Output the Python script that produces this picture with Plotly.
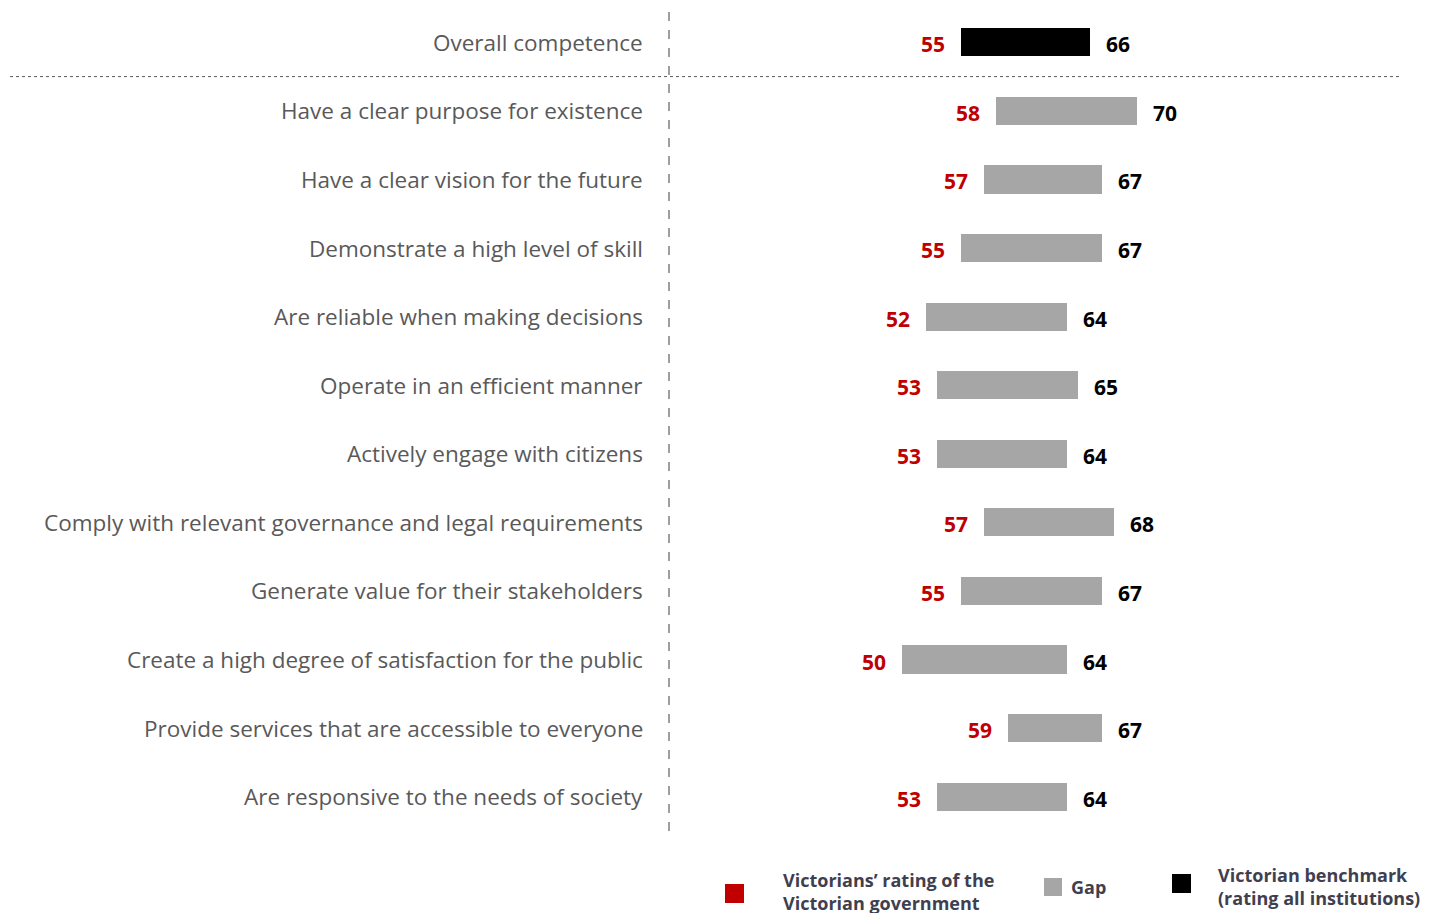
import plotly.graph_objects as go

categories = [
    "Overall competence",
    "Have a clear purpose for existence",
    "Have a clear vision for the future",
    "Demonstrate a high level of skill",
    "Are reliable when making decisions",
    "Operate in an efficient manner",
    "Actively engage with citizens",
    "Comply with relevant governance and legal requirements",
    "Generate value for their stakeholders",
    "Create a high degree of satisfaction for the public",
    "Provide services that are accessible to everyone",
    "Are responsive to the needs of society",
]
victorian_rating = [55, 58, 57, 55, 52, 53, 53, 57, 55, 50, 59, 53]
benchmark = [66, 70, 67, 67, 64, 65, 64, 68, 67, 64, 67, 64]
legend_labels = ["Victorians’ rating of the<br>Victorian government", "Gap",
                 "Victorian benchmark<br>(rating all institutions)"]

RED = "#C00000"
GRAY = "#A6A6A6"
BLACK = "#000000"
TXT = "#595959"

W, H = 1447, 913
ML, MR, MT, MB = 669, 47, 8, 82
PW, PH = W - ML - MR, H - MT - MB

def px2paper_x(px):
    return (px - ML) / PW

def px2paper_y(py):
    return (H - MB - py) / PH

colors = [BLACK] + [GRAY] * (len(categories) - 1)

fig = go.Figure()
fig.add_trace(go.Bar(
    y=categories,
    x=[b - r for b, r in zip(benchmark, victorian_rating)],
    base=victorian_rating,
    orientation="h",
    marker=dict(color=colors, line=dict(width=0)),
    width=0.41,
    hoverinfo="skip",
    showlegend=False,
))

annotations = []
for cat, r, b in zip(categories, victorian_rating, benchmark):
    annotations.append(dict(x=r, y=cat, xref="x", yref="y", text=str(r), showarrow=False,
                            xanchor="right", xshift=-14, yshift=-2,
                            font=dict(family="Open Sans", size=21, color=RED, weight="bold")))
    annotations.append(dict(x=b, y=cat, xref="x", yref="y", text=str(b), showarrow=False,
                            xanchor="left", xshift=14, yshift=-2,
                            font=dict(family="Open Sans", size=21, color=BLACK, weight="bold")))
    annotations.append(dict(x=px2paper_x(645), y=cat, xref="paper", yref="y", text=cat,
                            showarrow=False, xanchor="right",
                            font=dict(family="Open Sans", size=22.5, color=TXT)))

shapes = [
    dict(type="line", xref="paper", yref="paper", x0=0, x1=0, y0=0, y1=1,
         line=dict(color="#7F7F7F", width=1.5, dash="dash")),
    dict(type="line", xref="paper", yref="y", x0=px2paper_x(10), x1=1, y0=0.5, y1=0.5,
         line=dict(color="#595959", width=1, dash="dot")),
]

# legend: (square x0, x1, y0, y1, colour, text x, text centre y, label)
leg = [
    (725, 744, 884, 903, RED, 781, 892, legend_labels[0]),
    (1044, 1062, 878, 896, GRAY, 1069, 887, legend_labels[1]),
    (1172, 1191, 874, 893, BLACK, 1216, 886, legend_labels[2]),
]
for x0, x1, y0, y1, c, tx, ty, t in leg:
    shapes.append(dict(type="rect", xref="paper", yref="paper",
                       x0=px2paper_x(x0), x1=px2paper_x(x1),
                       y0=px2paper_y(y1), y1=px2paper_y(y0),
                       fillcolor=c, line=dict(width=0)))
    annotations.append(dict(x=px2paper_x(tx), y=px2paper_y(ty), xref="paper", yref="paper",
                            text=t, showarrow=False, xanchor="left", yanchor="middle",
                            align="left",
                            font=dict(family="Open Sans", size=18, color="#3F3F4F",
                                      weight="bold")))

fig.update_layout(
    width=W, height=H,
    margin=dict(l=ML, r=MR, t=MT, b=MB),
    paper_bgcolor="white", plot_bgcolor="white",
    xaxis=dict(range=[30.17, 92.38], visible=False),
    yaxis=dict(autorange="reversed", showticklabels=False, showgrid=False,
               zeroline=False, showline=False, ticks=""),
    shapes=shapes, annotations=annotations,
    bargap=0,
)

fig.write_html("out.html")
